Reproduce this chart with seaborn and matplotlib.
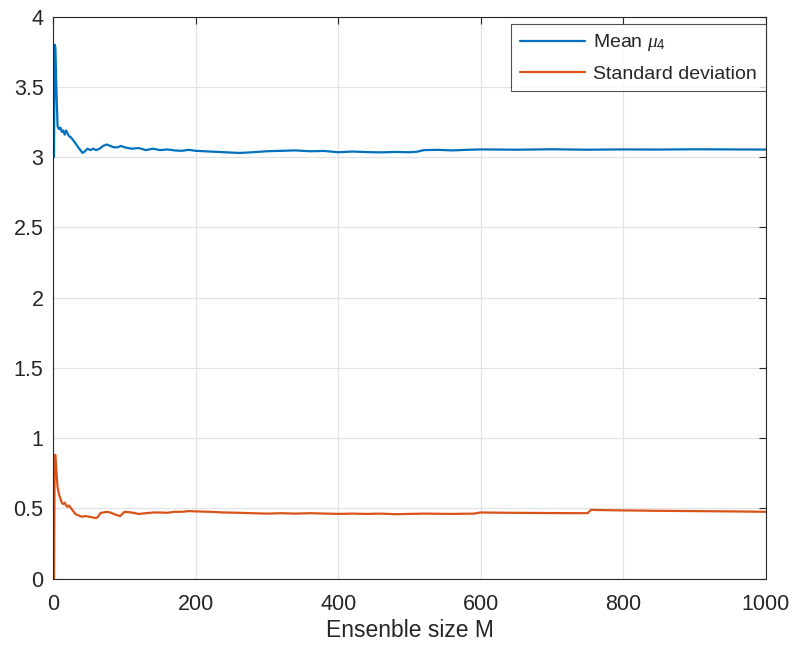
import numpy as np
import pandas as pd
import matplotlib
matplotlib.use("Agg")
import matplotlib.pyplot as plt
import seaborn as sns

## DADOS
M_MEAN = [1, 2, 3, 4, 6, 8, 10, 12, 14, 16, 18, 20, 22, 25, 28, 31, 35, 38, 41, 44,
          48, 52, 56, 60, 65, 70, 75, 80, 85, 90, 95, 100, 110, 120, 130, 140, 150,
          160, 170, 180, 190, 200, 220, 240, 260, 270, 280, 300, 320, 340, 360, 380,
          400, 420, 440, 460, 480, 500, 510, 520, 540, 560, 580, 600, 650, 700, 750,
          800, 850, 900, 950, 1000]
MEAN_MU4 = [3.00, 3.80, 3.78, 3.55, 3.22, 3.20, 3.21, 3.18, 3.19, 3.16, 3.19, 3.17,
            3.15, 3.14, 3.12, 3.10, 3.07, 3.05, 3.03, 3.04, 3.06, 3.05, 3.06, 3.05,
            3.06, 3.08, 3.09, 3.08, 3.07, 3.07, 3.08, 3.07, 3.06, 3.065, 3.05, 3.06,
            3.05, 3.055, 3.048, 3.045, 3.052, 3.045, 3.04, 3.035, 3.03, 3.032, 3.035,
            3.042, 3.045, 3.048, 3.042, 3.044, 3.035, 3.04, 3.036, 3.034, 3.037, 3.035,
            3.038, 3.05, 3.052, 3.048, 3.052, 3.055, 3.053, 3.056, 3.053, 3.055, 3.054,
            3.056, 3.055, 3.054]

M_STD = [1, 2, 3, 4, 5, 6, 8, 10, 12, 14, 16, 18, 20, 22, 25, 28, 31, 35, 40, 45,
         50, 55, 60, 63, 66, 70, 75, 80, 85, 90, 94, 97, 100, 110, 120, 130, 140,
         150, 160, 170, 180, 190, 200, 220, 240, 260, 280, 300, 320, 340, 360, 400,
         420, 440, 460, 480, 500, 520, 560, 590, 600, 640, 700, 750, 755, 760, 800,
         850, 900, 950, 1000]
STD_DEV = [0.00, 0.88, 0.88, 0.80, 0.72, 0.65, 0.60, 0.57, 0.54, 0.53, 0.54, 0.52,
           0.51, 0.52, 0.50, 0.48, 0.46, 0.45, 0.44, 0.445, 0.44, 0.435, 0.43, 0.44,
           0.465, 0.47, 0.475, 0.47, 0.46, 0.45, 0.445, 0.46, 0.475, 0.47, 0.46,
           0.465, 0.47, 0.47, 0.468, 0.475, 0.475, 0.48, 0.478, 0.475, 0.47, 0.468,
           0.465, 0.462, 0.465, 0.462, 0.465, 0.46, 0.462, 0.46, 0.462, 0.458, 0.46,
           0.462, 0.46, 0.462, 0.47, 0.468, 0.466, 0.465, 0.49, 0.488, 0.485, 0.482,
           0.48, 0.478, 0.475]

X_TICKS = [0, 200, 400, 600, 800, 1000]
Y_TICKS = [0, 0.5, 1, 1.5, 2, 2.5, 3, 3.5, 4]
Y_LABELS = ["0", "0.5", "1", "1.5", "2", "2.5", "3", "3.5", "4"]

BLUE = "#0072BD"
ORANGE = "#D95319"

sns.set_style("white")
plt.rcParams["font.family"] = ["Liberation Sans", "DejaVu Sans"]
plt.rcParams["mathtext.fontset"] = "custom"
plt.rcParams["mathtext.it"] = "Liberation Serif:italic"
plt.rcParams["mathtext.rm"] = "Liberation Sans"

fig = plt.figure(figsize=(7.94, 6.52), dpi=100)
ax = fig.add_axes([0.0671, 0.1127, 0.8972, 0.8617])

sns.lineplot(x=M_MEAN, y=MEAN_MU4, ax=ax, color=BLUE, lw=1.6,
             estimator=None, sort=False, label=r"Mean $\mu_{\mathrm{4}}$")
sns.lineplot(x=M_STD, y=STD_DEV, ax=ax, color=ORANGE, lw=1.6,
             estimator=None, sort=False, label="Standard deviation")

ax.set_xlim(0, 1000)
ax.set_ylim(0, 4)
ax.set_xticks(X_TICKS)
ax.set_yticks(Y_TICKS)
ax.set_yticklabels(Y_LABELS)
ax.grid(True, color="#e3e3e3", lw=0.9)
ax.set_axisbelow(True)
ax.tick_params(direction="in", top=True, right=True, length=5, width=0.8,
               labelsize=15.5, colors="#262626")
ax.tick_params(axis="x", pad=11)
ax.tick_params(axis="y", pad=7)
for s in ax.spines.values():
    s.set_color("#262626")
    s.set_linewidth(0.8)
ax.set_xlabel("Ensenble size M", fontsize=16.5, color="#262626", labelpad=3)

leg = ax.legend(loc="upper right", bbox_to_anchor=(1.0, 0.9876), fontsize=14,
                frameon=True, fancybox=False, edgecolor="#262626",
                handlelength=3.35, borderaxespad=0, borderpad=0.45,
                labelspacing=0.6, handletextpad=0.4)
leg.get_frame().set_linewidth(0.8)

fig.savefig("out.png", dpi=100)
